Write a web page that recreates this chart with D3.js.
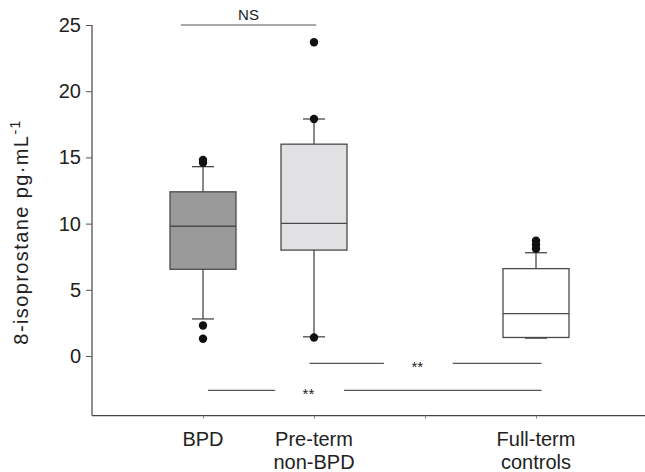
<!DOCTYPE html>
<html>

<head>
    <script type="text/javascript" src="https://cdnjs.cloudflare.com/ajax/libs/d3/7.8.5/d3.min.js"></script>
    <style>
        body {
            margin: 0;
            background: white;
        }

        svg text {
            font-family: "Liberation Sans", Arial, sans-serif;
            fill: #222;
        }
    </style>
</head>

<body>
    <script>
        // groups, placed on slots 1, 2 and 4 (slot 3 is an empty tick)
        var categories = [["BPD"], ["Pre-term", "non-BPD"], ["Full-term", "controls"]];
        var slots = [1, 2, 4];
        var q1 = [6.55, 8.0, 1.4];
        var medians = [9.8, 10.02, 3.2];
        var q3 = [12.4, 16.0, 6.6];
        var whiskerLow = [2.8, 1.45, 1.35];
        var whiskerHigh = [14.3, 17.9, 7.8];
        var outliers = [[14.6, 14.8, 2.3, 1.3], [23.7, 17.9, 1.4], [8.1, 8.4, 8.7]];
        var fills = ["#9a9a9a", "#e1e1e3", "#ffffff"];

        var yTicks = [0, 5, 10, 15, 20, 25];

        // significance bars
        var sigLabels = ["NS", "**", "**"];
        var sigY = [25, -0.55, -2.6];
        var sigTextX = [1.41, 2.93, 1.95];
        var sigSegments = [[[0.8, 2.02]], [[1.96, 2.63], [3.25, 4.05]], [[1.045, 1.65], [2.27, 4.05]]];

        var width = 645, height = 472;
        var left = 92;

        var x = d3.scaleLinear().domain([0, 5]).range([left, left + 555]);
        var y = d3.scaleLinear().domain([-4.5, 25]).range([415.6, 25]);

        var svg = d3.select('body')
            .append('svg')
            .attr('width', width)
            .attr('height', height);

        // axes
        var yAxis = svg.append('g')
            .attr('transform', 'translate(' + left + ',0)')
            .call(d3.axisLeft(y).tickValues(yTicks).tickSize(6).tickPadding(5));
        yAxis.select('.domain').attr('d', 'M0,' + y(25) + 'V' + y(-4.5));
        yAxis.selectAll('line').attr('stroke', '#555');
        yAxis.select('.domain').attr('stroke', '#444').attr('stroke-width', 1.2);
        yAxis.selectAll('text').style('font-size', '20px').attr('fill', '#222');

        var xAxis = svg.append('g')
            .attr('transform', 'translate(0,' + y(-4.5) + ')')
            .call(d3.axisBottom(x).tickValues([1, 2, 3, 4]).tickSize(3).tickFormat(''));
        xAxis.select('.domain').attr('d', 'M' + left + ',0H' + width).attr('stroke', '#444').attr('stroke-width', 1.2);
        xAxis.selectAll('line').attr('stroke', '#888');

        // category labels
        var labels = svg.selectAll('.cat')
            .data(categories)
            .enter()
            .append('text')
            .attr('class', 'cat')
            .attr('x', function(d, i) { return x(slots[i]); })
            .attr('y', 446)
            .attr('text-anchor', 'middle')
            .style('font-size', '20px');
        labels.selectAll('tspan')
            .data(function(d) { return d; })
            .enter()
            .append('tspan')
            .attr('x', function() { return d3.select(this.parentNode).attr('x'); })
            .attr('dy', function(d, j) { return j ? 23 : 0; })
            .text(function(d) { return d; });

        // y label
        var ylab = svg.append('text')
            .attr('transform', 'translate(28,232) rotate(-90)')
            .attr('text-anchor', 'middle')
            .style('font-size', '20px')
            .style('letter-spacing', '1.4px');
        ylab.append('tspan').text('8-isoprostane pg\u00b7mL');
        ylab.append('tspan').attr('dy', -8).style('font-size', '14px').text('-1');

        // boxes
        var boxW = 66, capW = 22;
        var stroke = '#4a4a4a';
        var box = svg.selectAll('.box')
            .data(categories)
            .enter()
            .append('g')
            .attr('class', 'box')
            .attr('transform', function(d, i) { return 'translate(' + x(slots[i]) + ',0)'; });

        box.append('line')
            .attr('y1', function(d, i) { return y(whiskerHigh[i]); })
            .attr('y2', function(d, i) { return y(whiskerLow[i]); })
            .attr('stroke', stroke).attr('stroke-width', 1.3);
        box.append('rect')
            .attr('x', -boxW / 2)
            .attr('width', boxW)
            .attr('y', function(d, i) { return y(q3[i]); })
            .attr('height', function(d, i) { return y(q1[i]) - y(q3[i]); })
            .attr('fill', function(d, i) { return fills[i]; })
            .attr('stroke', stroke).attr('stroke-width', 1.3);
        box.append('line')
            .attr('x1', -boxW / 2).attr('x2', boxW / 2)
            .attr('y1', function(d, i) { return y(medians[i]); })
            .attr('y2', function(d, i) { return y(medians[i]); })
            .attr('stroke', stroke).attr('stroke-width', 1.3);
        [whiskerHigh, whiskerLow].forEach(function(w) {
            box.append('line')
                .attr('x1', -capW / 2).attr('x2', capW / 2)
                .attr('y1', function(d, i) { return y(w[i]); })
                .attr('y2', function(d, i) { return y(w[i]); })
                .attr('stroke', stroke).attr('stroke-width', 1.3);
        });
        box.selectAll('circle')
            .data(function(d, i) { return outliers[i]; })
            .enter()
            .append('circle')
            .attr('r', 4.2)
            .attr('cy', function(d) { return y(d); })
            .attr('fill', '#111');

        // significance
        sigLabels.forEach(function(lab, k) {
            svg.selectAll(null)
                .data(sigSegments[k])
                .enter()
                .append('line')
                .attr('x1', function(d) { return x(d[0]); })
                .attr('x2', function(d) { return x(d[1]); })
                .attr('y1', y(sigY[k]))
                .attr('y2', y(sigY[k]))
                .attr('stroke', '#555')
                .attr('stroke-width', 1.2);
            svg.append('text')
                .attr('x', x(sigTextX[k]))
                .attr('y', k === 0 ? y(sigY[k]) - 5 : y(sigY[k]) + 9)
                .attr('text-anchor', 'middle')
                .style('font-size', '15px')
                .text(lab);
        });
    </script>
</body>

</html>
